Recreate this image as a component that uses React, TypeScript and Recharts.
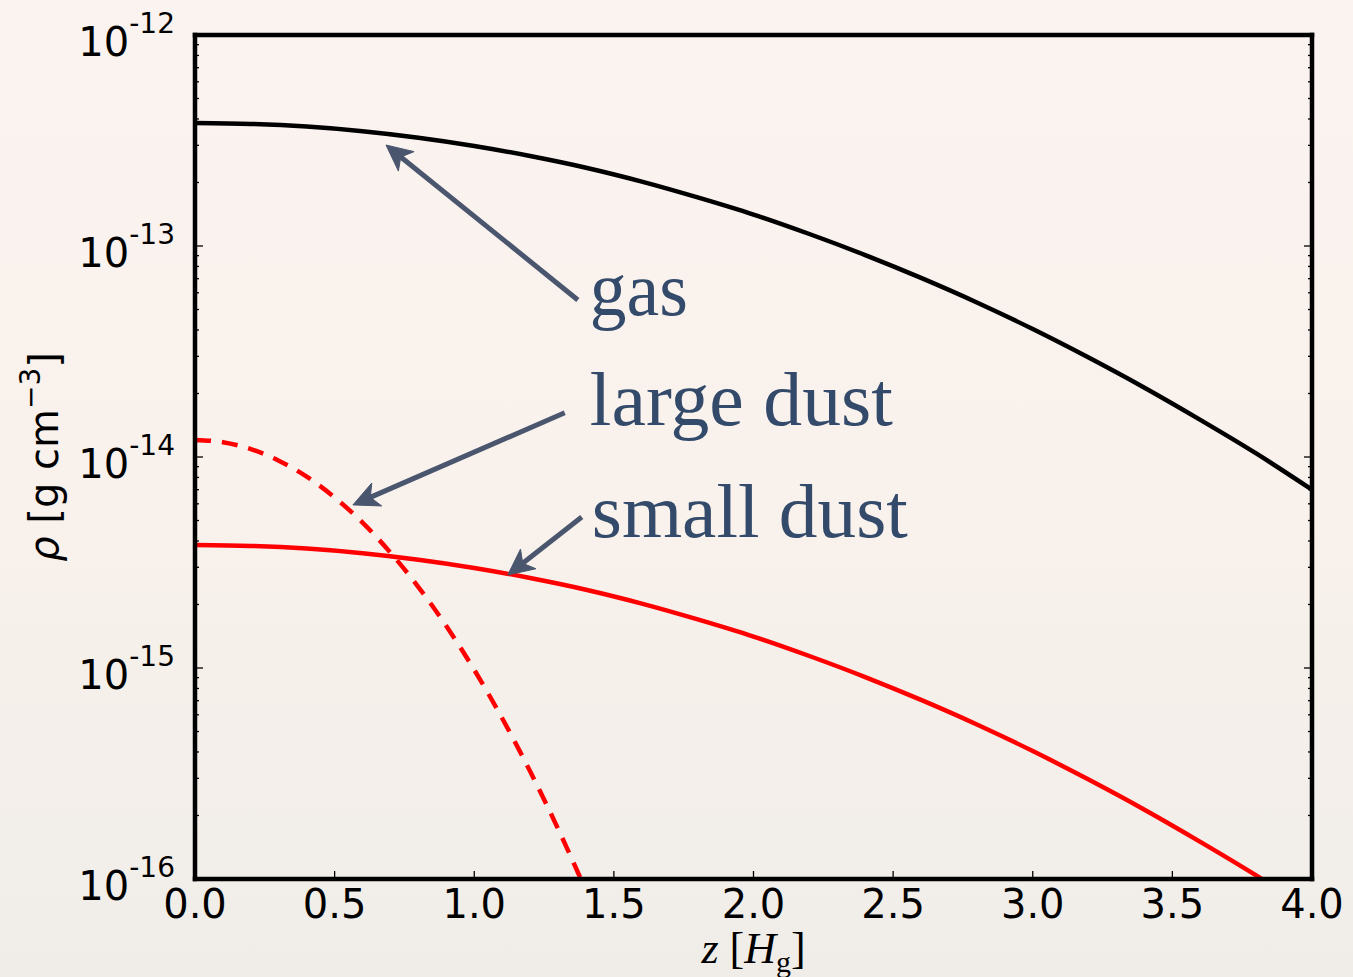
import React from 'react';
import { LineChart, Line, XAxis, YAxis, ReferenceLine, ReferenceDot } from 'recharts';

// ---- data ----
const zGas = [0, 0.2, 0.4, 0.6, 0.8, 1.0, 1.2, 1.4, 1.6, 1.8, 2.0, 2.2, 2.4, 2.6, 2.8, 3.0, 3.2, 3.4, 3.6, 3.8, 4.0];
const rhoGas = [3.83e-13, 3.79e-13, 3.68e-13, 3.5e-13, 3.26e-13, 2.98e-13, 2.67e-13, 2.35e-13, 2.02e-13, 1.7e-13, 1.41e-13, 1.14e-13, 9.06e-14, 7.06e-14, 5.4e-14, 4.04e-14, 2.96e-14, 2.13e-14, 1.5e-14, 1.04e-14, 7.0e-15];
const rhoSmallDust = [3.83e-15, 3.79e-15, 3.68e-15, 3.5e-15, 3.26e-15, 2.98e-15, 2.67e-15, 2.35e-15, 2.02e-15, 1.7e-15, 1.41e-15, 1.14e-15, 9.06e-16, 7.06e-16, 5.4e-16, 4.04e-16, 2.96e-16, 2.13e-16, 1.5e-16, 1.04e-16, 7.0e-17];
const zLargeDust = [0, 0.1, 0.2, 0.3, 0.4, 0.5, 0.6, 0.7, 0.8, 0.9, 1.0, 1.1, 1.2, 1.3, 1.4, 1.5];
const rhoLargeDust = [1.205e-14, 1.175e-14, 1.09e-14, 9.61e-15, 8.07e-15, 6.43e-15, 4.89e-15, 3.52e-15, 2.42e-15, 1.58e-15, 9.8e-16, 5.78e-16, 3.24e-16, 1.73e-16, 8.8e-17, 4.3e-17];

const xTicks = [0, 0.5, 1.0, 1.5, 2.0, 2.5, 3.0, 3.5, 4.0];
const yDecades = [-16, -15, -14, -13, -12];
const yMinorMultipliers = [2, 3, 4, 5, 6, 7, 8, 9];

const annotationLabels = ['gas', 'large dust', 'small dust'];
const annotationLabelZ = [1.414, 1.414, 1.421];
const annotationLabelRho = [4.71e-14, 1.42e-14, 4.18e-15];
const arrowTailZ = [1.371, 1.324, 1.385];
const arrowTailRho = [5.55e-14, 1.62e-14, 5.2e-15];
const arrowTipZ = [0.684, 0.5655, 1.12];
const arrowTipRho = [3.01e-13, 5.93e-15, 2.76e-15];

// ---- derived tables ----
const gasData = zGas.map((z, i) => ({ z, rho: rhoGas[i] }));
const smallData = zGas.map((z, i) => ({ z, rho: rhoSmallDust[i] }));
const largeData = zLargeDust.map((z, i) => ({ z, rho: rhoLargeDust[i] }));

const yTicks: number[] = [];
yDecades.forEach((e, i) => {
  yTicks.push(Math.pow(10, e));
  if (i < yDecades.length - 1) {
    yMinorMultipliers.forEach((m) => yTicks.push(m * Math.pow(10, e)));
  }
});

const isMajor = (v: number) => {
  const lg = Math.log10(v);
  return Math.abs(lg - Math.round(lg)) < 1e-6;
};

const TICK_COLOR = '#000';
const ARROW_COLOR = '#4a566e';
const TEXT_COLOR = '#344a6a';
const LABEL_WIDTHS: Record<string, number> = { gas: 98, 'large dust': 303, 'small dust': 316 };

const XTickBottom = (props: any) => {
  const { x, y, payload } = props;
  return (
    <g>
      <line x1={x} x2={x} y1={y} y2={y - 8} stroke={TICK_COLOR} strokeWidth={1.3} />
      <text x={x} y={y + 39} textAnchor="middle" fontFamily="DejaVu Sans" fontSize={40} fill="#000">
        {Number(payload.value).toFixed(1)}
      </text>
    </g>
  );
};

const XTickTop = (props: any) => {
  const { x, y } = props;
  return <line x1={x} x2={x} y1={y} y2={y + 8} stroke={TICK_COLOR} strokeWidth={1.3} />;
};

const YTickLeft = (props: any) => {
  const { x, y, payload } = props;
  const v = payload.value;
  const major = isMajor(v);
  return (
    <g>
      <line x1={x} x2={x + (major ? 8 : 4)} y1={y} y2={y} stroke={TICK_COLOR} strokeWidth={1.3} />
      {major && (
        <text x={x - 20} y={y + 21} textAnchor="end" fontFamily="DejaVu Sans" fontSize={40} fill="#000">
          <tspan>10</tspan>
          <tspan dy={-23} fontSize={28}>{String(Math.round(Math.log10(v)))}</tspan>
        </text>
      )}
    </g>
  );
};

const YTickRight = (props: any) => {
  const { x, y, payload } = props;
  const major = isMajor(payload.value);
  return <line x1={x} x2={x - (major ? 8 : 4)} y1={y} y2={y} stroke={TICK_COLOR} strokeWidth={1.3} />;
};

const Arrow = (props: any) => {
  const { x1, y1, x2, y2 } = props;
  const dx = x2 - x1;
  const dy = y2 - y1;
  const L = Math.hypot(dx, dy) || 1;
  const ux = dx / L;
  const uy = dy / L;
  const nx = -uy;
  const ny = ux;
  const headLen = 26;
  const headW = 12.5;
  const notch = 19;
  const bx = x2 - ux * headLen;
  const by = y2 - uy * headLen;
  const kx = x2 - ux * notch;
  const ky = y2 - uy * notch;
  const pts = [
    [x2, y2],
    [bx + nx * headW, by + ny * headW],
    [kx, ky],
    [bx - nx * headW, by - ny * headW],
  ]
    .map((p) => p.join(','))
    .join(' ');
  return (
    <g>
      <line x1={x1} y1={y1} x2={kx + ux * 2} y2={ky + uy * 2} stroke={ARROW_COLOR} strokeWidth={5} />
      <polygon points={pts} fill={ARROW_COLOR} stroke={ARROW_COLOR} strokeWidth={1} strokeLinejoin="miter" />
    </g>
  );
};

const axisLineStyle = { stroke: '#000', strokeWidth: 4.5, strokeLinecap: 'square' as const };

export default function App() {
  return (
    <div
      style={{
        position: 'absolute',
        left: 0,
        top: 0,
        width: 1353,
        height: 977,
        background: 'linear-gradient(180deg, #faf3ef 0%, #f8f1ec 55%, #f0ede8 100%)',
      }}
    >
      <LineChart width={1353} height={977} margin={{ top: 0, right: 0, bottom: 0, left: 0 }}>
        <XAxis
          dataKey="z"
          type="number"
          domain={[0, 4]}
          allowDataOverflow
          ticks={xTicks}
          interval={0}
          tickSize={0}
          tickMargin={0}
          tickLine={false}
          axisLine={axisLineStyle}
          tick={<XTickBottom />}
          height={98}
          label={{
            content: (p: any) => {
              const vb = p.viewBox || { x: 195, y: 879, width: 1117 };
              return (
                <text
                  x={vb.x + vb.width / 2}
                  y={vb.y + 84}
                  textAnchor="middle"
                  fontFamily="Liberation Serif"
                  fontSize={44}
                  fill="#000"
                >
                  <tspan fontStyle="italic">z</tspan>
                  <tspan> [</tspan>
                  <tspan fontStyle="italic">H</tspan>
                  <tspan fontSize={30} dy={9}>g</tspan>
                  <tspan dy={-9}>]</tspan>
                </text>
              );
            },
          }}
        />
        <XAxis
          xAxisId="top"
          orientation="top"
          type="number"
          domain={[0, 4]}
          allowDataOverflow
          ticks={xTicks}
          interval={0}
          tickSize={0}
          tickMargin={0}
          tickLine={false}
          axisLine={axisLineStyle}
          tick={<XTickTop />}
          height={35}
        />
        <YAxis
          type="number"
          scale="log"
          domain={[1e-16, 1e-12]}
          allowDataOverflow
          ticks={yTicks}
          interval={0}
          tickSize={0}
          tickMargin={0}
          tickLine={false}
          axisLine={axisLineStyle}
          tick={<YTickLeft />}
          width={195}
          label={{
            content: (p: any) => {
              const vb = p.viewBox || { x: 0, y: 35, width: 195, height: 844 };
              const cx = vb.x + 58;
              const cy = vb.y + vb.height / 2;
              return (
                <text
                  x={cx}
                  y={cy}
                  transform={`rotate(-90, ${cx}, ${cy})`}
                  textAnchor="middle"
                  fontFamily="DejaVu Sans"
                  fontSize={40}
                  fill="#000"
                >
                  <tspan fontStyle="italic">ρ</tspan>
                  <tspan> [g cm</tspan>
                  <tspan fontSize={28} dy={-18}>−3</tspan>
                  <tspan dy={18}>]</tspan>
                </text>
              );
            },
          }}
        />
        <YAxis
          yAxisId="right"
          orientation="right"
          type="number"
          scale="log"
          domain={[1e-16, 1e-12]}
          allowDataOverflow
          ticks={yTicks}
          interval={0}
          tickSize={0}
          tickMargin={0}
          tickLine={false}
          axisLine={axisLineStyle}
          tick={<YTickRight />}
          width={41}
        />

        <Line
          data={gasData}
          dataKey="rho"
          type="monotone"
          stroke="#000"
          strokeWidth={4.5}
          dot={false}
          activeDot={false}
          isAnimationActive={false}
        />
        <Line
          data={smallData}
          dataKey="rho"
          type="monotone"
          stroke="#ff0000"
          strokeWidth={4.5}
          dot={false}
          activeDot={false}
          isAnimationActive={false}
        />
        <Line
          data={largeData}
          dataKey="rho"
          type="monotone"
          stroke="#ff0000"
          strokeWidth={4.5}
          strokeDasharray="16 11"
          dot={false}
          activeDot={false}
          isAnimationActive={false}
        />

        {annotationLabels.map((_, i) => (
          <ReferenceLine
            key={`arrow-${i}`}
            segment={[
              { x: arrowTailZ[i], y: arrowTailRho[i] },
              { x: arrowTipZ[i], y: arrowTipRho[i] },
            ]}
            ifOverflow="visible"
            shape={(p: any) => <Arrow {...p} />}
          />
        ))}
        {annotationLabels.map((label, i) => (
          <ReferenceDot
            key={`label-${i}`}
            x={annotationLabelZ[i]}
            y={annotationLabelRho[i]}
            r={0}
            ifOverflow="visible"
            shape={(p: any) => (
              <text
                x={p.cx}
                y={p.cy}
                fontFamily="Liberation Serif"
                fontSize={76}
                fill={TEXT_COLOR}
                textLength={LABEL_WIDTHS[label]}
                lengthAdjust="spacingAndGlyphs"
              >
                {label}
              </text>
            )}
          />
        ))}
      </LineChart>
    </div>
  );
}
